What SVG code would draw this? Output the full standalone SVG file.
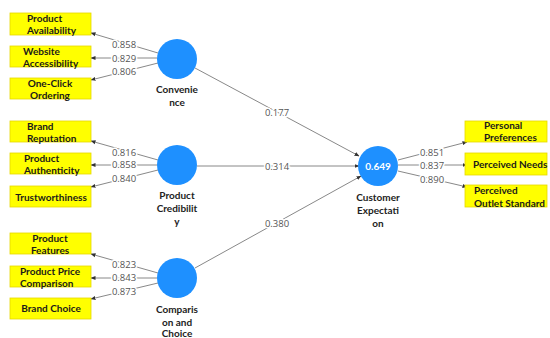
<svg xmlns="http://www.w3.org/2000/svg" width="550" height="338" viewBox="0 0 550 338">
<style>
.box{fill:#ffff00;stroke:#e6d800;stroke-width:0.8}
.bt{font-family:Lato,"Liberation Sans",sans-serif;font-size:10px;font-weight:bold;fill:#1a1a1a}
.lv{fill:#1e90ff}
.lt{font-family:Lato,"Liberation Sans",sans-serif;font-size:10px;font-weight:bold;fill:#222;text-anchor:middle}
.num{font-family:"Open Sans","Liberation Sans",sans-serif;font-size:9.5px;fill:#555;text-anchor:middle;stroke:#fff;stroke-width:3px;paint-order:stroke}
.ln{stroke:#7a7a7a;stroke-width:0.9;fill:none;marker-end:url(#ah)}
</style>
<defs>
<marker id="ah" viewBox="0 0 10 10" refX="9" refY="5" markerWidth="5" markerHeight="5" orient="auto" markerUnits="userSpaceOnUse">
<path d="M0,1 L10,5 L0,9 z" fill="#333"/>
</marker>
</defs>
<rect width="550" height="338" fill="#fff"/>
<g id="connectors">
<line class="ln" x1="158" y1="53" x2="91" y2="33"/>
<line class="ln" x1="157" y1="58" x2="91" y2="58"/>
<line class="ln" x1="158" y1="63" x2="91" y2="80"/>
<line class="ln" x1="158" y1="160" x2="91" y2="141"/>
<line class="ln" x1="157" y1="165" x2="91" y2="165"/>
<line class="ln" x1="158" y1="170" x2="91" y2="187"/>
<line class="ln" x1="158" y1="273" x2="91" y2="254"/>
<line class="ln" x1="157" y1="278" x2="91" y2="278"/>
<line class="ln" x1="158" y1="283" x2="91" y2="299"/>
<line class="ln" x1="195" y1="68" x2="359" y2="156"/>
<line class="ln" x1="197" y1="166" x2="359" y2="166"/>
<line class="ln" x1="195" y1="268" x2="361" y2="176"/>
<line class="ln" x1="398" y1="160" x2="467" y2="142"/>
<line class="ln" x1="398" y1="165" x2="467" y2="165"/>
<line class="ln" x1="398" y1="171" x2="467" y2="187"/>
<text class="num" x="124" y="48">0.858</text>
<text class="num" x="124" y="62">0.829</text>
<text class="num" x="124" y="75">0.806</text>
<text class="num" x="124" y="156">0.816</text>
<text class="num" x="124" y="168">0.858</text>
<text class="num" x="124" y="182">0.840</text>
<text class="num" x="124" y="268">0.823</text>
<text class="num" x="124" y="281">0.843</text>
<text class="num" x="124" y="295">0.873</text>
<text class="num" x="277" y="116">0.177</text>
<text class="num" x="277" y="170">0.314</text>
<text class="num" x="277" y="227">0.380</text>
<text class="num" x="432" y="156">0.851</text>
<text class="num" x="432" y="169">0.837</text>
<text class="num" x="432" y="183">0.890</text>
</g>
<g id="ind-product-availability"><rect class="box" x="10" y="13" width="81" height="22"/><text class="bt" x="27" y="21.5">Product</text><text class="bt" x="27" y="34">Availability</text></g>
<g id="ind-website-accessibility"><rect class="box" x="10" y="46" width="81" height="21"/><text class="bt" x="23" y="54.5">Website</text><text class="bt" x="23" y="66.5">Accessibility</text></g>
<g id="ind-one-click"><rect class="box" x="10" y="78" width="81" height="21"/><text class="bt" x="50" y="86.5" text-anchor="middle">One-Click</text><text class="bt" x="50" y="98.5" text-anchor="middle">Ordering</text></g>
<g id="ind-brand-reputation"><rect class="box" x="10" y="121" width="81" height="21"/><text class="bt" x="27" y="129.5">Brand</text><text class="bt" x="27" y="141.5">Reputation</text></g>
<g id="ind-product-authenticity"><rect class="box" x="10" y="153" width="81" height="21"/><text class="bt" x="24" y="161.5">Product</text><text class="bt" x="24" y="173.5">Authenticity</text></g>
<g id="ind-trustworthiness"><rect class="box" x="10" y="186" width="81" height="21"/><text class="bt" x="51" y="200.5" text-anchor="middle">Trustworthiness</text></g>
<g id="ind-product-features"><rect class="box" x="10" y="233" width="81" height="21"/><text class="bt" x="50" y="241.5" text-anchor="middle">Product</text><text class="bt" x="50" y="253.5" text-anchor="middle">Features</text></g>
<g id="ind-product-price"><rect class="box" x="10" y="266" width="81" height="21"/><text class="bt" x="20" y="274.5">Product Price</text><text class="bt" x="20" y="286.5">Comparison</text></g>
<g id="ind-brand-choice"><rect class="box" x="10" y="298" width="81" height="21"/><text class="bt" x="51" y="312" text-anchor="middle">Brand Choice</text></g>
<g id="ind-personal-preferences"><rect class="box" x="465" y="121" width="82" height="21"/><text class="bt" x="484" y="128.5">Personal</text><text class="bt" x="484" y="141">Preferences</text></g>
<g id="ind-perceived-needs"><rect class="box" x="465" y="153" width="82" height="22"/><text class="bt" x="473" y="168">Perceived Needs</text></g>
<g id="ind-perceived-outlet"><rect class="box" x="465" y="185" width="82" height="22"/><text class="bt" x="474" y="194">Perceived</text><text class="bt" x="474" y="206.5">Outlet Standard</text></g>
<g id="lv-convenience"><circle class="lv" cx="177" cy="59" r="20"/><text class="lt" x="177" y="93">Convenie</text><text class="lt" x="177" y="106">nce</text></g>
<g id="lv-product-credibility"><circle class="lv" cx="177" cy="165" r="20"/><text class="lt" x="177" y="199">Product</text><text class="lt" x="177" y="212">Credibilit</text><text class="lt" x="177" y="225">y</text></g>
<g id="lv-comparison"><circle class="lv" cx="177" cy="278" r="20"/><text class="lt" x="177" y="313">Comparis</text><text class="lt" x="177" y="326">on and</text><text class="lt" x="177" y="337">Choice</text></g>
<g id="lv-customer-expectation"><circle class="lv" cx="378" cy="166" r="20"/><text class="lt" x="378" y="170" style="fill:#fff">0.649</text><text class="lt" x="378" y="201">Customer</text><text class="lt" x="378" y="214">Expectati</text><text class="lt" x="378" y="227">on</text></g>
</svg>
